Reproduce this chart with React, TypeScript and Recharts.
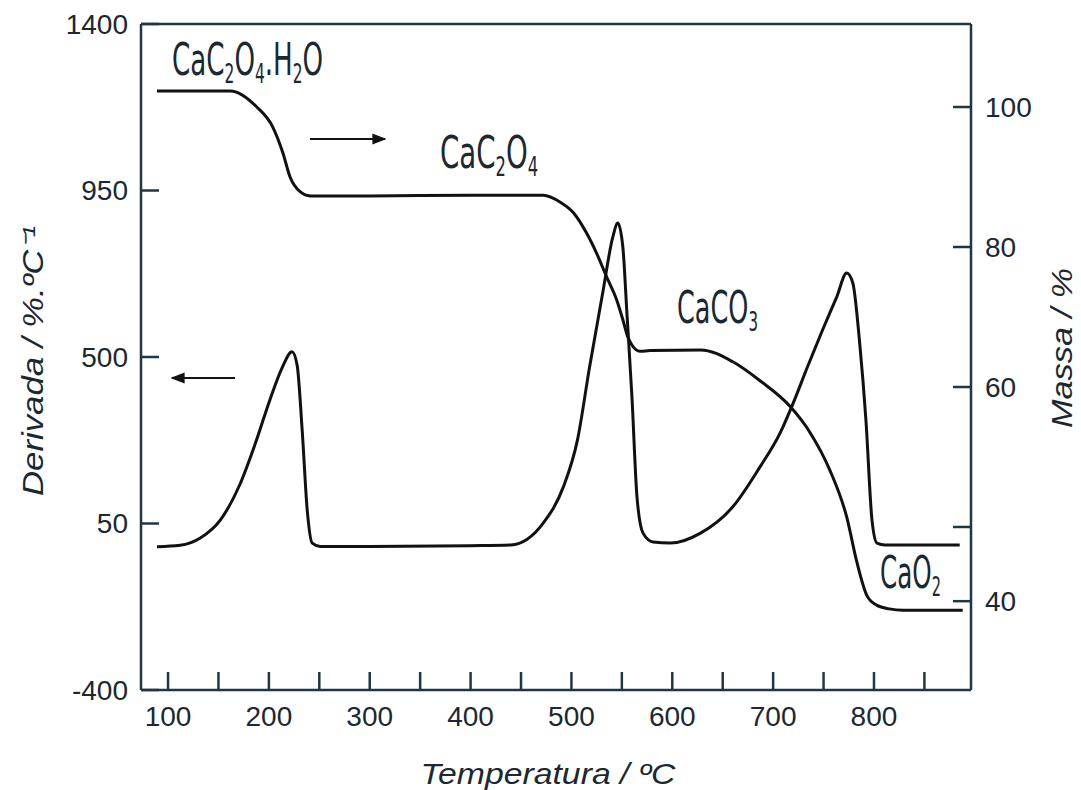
import React from 'react'
import { LineChart, Line, XAxis, YAxis } from 'recharts'

// curva derivada (DTG), eixo esquerdo
const dtgTemp = [89, 112, 132, 152, 171, 186, 201, 213, 223, 228, 233, 238, 243, 251, 300, 400, 440, 472, 492, 506, 518, 531, 541, 546, 551, 555, 560, 565, 571, 581, 598, 628, 660, 687, 707, 720, 734, 749, 763, 773, 779, 786, 792, 798, 803, 811, 885]
const dtgValue = [-13, -9, 11, 60, 154, 262, 384, 470, 514, 478, 303, 87, -3, -12, -12, -10, -8, 51, 149, 276, 473, 673, 824, 862, 797, 619, 392, 122, 24, 0, -3, 24, 95, 203, 295, 376, 473, 573, 662, 727, 700, 532, 330, 60, -3, -8, -8]

// curva de massa (TG), eixo direito
const tgTemp = [89, 162, 188, 204, 214, 221, 231, 241, 300, 400, 472, 489, 502, 515, 525, 535, 545, 551, 556, 560, 568, 578, 628, 660, 687, 717, 737, 756, 773, 783, 793, 803, 815, 829, 888]
const tgMass = [102.3, 102.3, 100, 97.1, 93.4, 90, 87.9, 87.3, 87.3, 87.4, 87.4, 86.4, 84.9, 82.0, 79.1, 75.7, 72.4, 69.6, 67.1, 66.0, 65.1, 65.2, 65.3, 63.6, 60.9, 57.2, 53.4, 48.2, 41.4, 35.0, 30.2, 28.8, 28.3, 28.1, 28.1]

const tempTicks = [100, 150, 200, 250, 300, 350, 400, 450, 500, 550, 600, 650, 700, 750, 800, 850]
const dtgTicks = [-400, 50, 500, 950, 1400]
const massTicks = [29.4, 40, 60, 80, 100]
const massTickLabels = ['40', '', '60', '80', '100']
const topTicks = [1, 2, 3, 4, 5, 6, 7]

// fórmulas: pares [texto, subscrito?]
const formulaHydrate: [string, boolean][] = [['CaC', false], ['2', true], ['O', false], ['4', true], ['.H', false], ['2', true], ['O', false]]
const formulaOxalate: [string, boolean][] = [['CaC', false], ['2', true], ['O', false], ['4', true]]
const formulaCarbonate: [string, boolean][] = [['CaCO', false], ['3', true]]
const formulaOxide: [string, boolean][] = [['CaO', false], ['2', true]]

const dtgData = dtgTemp.map((t, i) => ({ t, v: dtgValue[i] }))
const tgData = tgTemp.map((t, i) => ({ t, m: tgMass[i] }))

const frame = '#1f3743'
const ink = '#1b2830'
const sans = '"Liberation Sans", Arial, sans-serif'
const narrow = '"Liberation Sans Narrow", "DejaVu Sans Condensed", sans-serif'
const tickStyle = { fill: ink, fontSize: 28, fontFamily: sans }

// larguras aproximadas (em em) da fonte estreita
const narrowWidth: Record<string, number> = { C: 0.663, a: 0.511, O: 0.715, H: 0.663, '.': 0.255 }
const DIGIT = 0.511
const BIG = 44
const SMALL = 26

function Formula({ parts, x, y, width }: { parts: [string, boolean][]; x: number; y: number; width: number }) {
  const natural = parts.reduce((sum, [s, sub]) =>
    sum + s.split('').reduce((w, ch) => w + (narrowWidth[ch] ?? DIGIT), 0) * (sub ? SMALL : BIG), 0)
  const sx = width / natural
  let prevSub = false
  return (
    <text transform={`translate(${x} ${y}) scale(${sx} 1)`} x={0} y={0}>
      {parts.map(([s, sub], i) => {
        const dy = sub && !prevSub ? 8 : !sub && prevSub ? -8 : 0
        prevSub = sub
        return (
          <tspan key={i} dy={dy} fontSize={sub ? SMALL : BIG}>{s}</tspan>
        )
      })}
    </text>
  )
}

export default function App() {
  return (
    <div style={{ position: 'absolute', left: 0, top: 0, width: 1081, height: 790, background: '#fff' }}>
      <LineChart width={1081} height={790} margin={{ top: 4, right: 50, bottom: 40, left: 81 }}>
        <XAxis
          xAxisId="bottom" type="number" dataKey="t" domain={[73.2, 896.2]} allowDataOverflow
          ticks={tempTicks} interval={0} height={60}
          tickFormatter={(v: number) => (v % 100 === 0 && v <= 800 ? String(v) : '')}
          tickSize={-18} tickMargin={34} stroke={frame} strokeWidth={2.5} tick={tickStyle}
        />
        <XAxis
          xAxisId="top" orientation="top" type="number" domain={[0, 8]} ticks={topTicks} interval={0}
          height={20} tickFormatter={() => ''} tickSize={-16} stroke={frame} strokeWidth={2.5}
        />
        <YAxis
          yAxisId="left" type="number" domain={[-400, 1400]} allowDataOverflow ticks={dtgTicks} interval={0}
          width={60} tickSize={-18} tickMargin={31} stroke={frame} strokeWidth={2.5} tick={tickStyle}
        />
        <YAxis
          yAxisId="right" orientation="right" type="number" domain={[16.71, 111.86]} allowDataOverflow
          ticks={massTicks} interval={0} width={60} tickSize={-18} tickMargin={32}
          tickFormatter={(_v: number, i: number) => massTickLabels[i]}
          stroke={frame} strokeWidth={2.5} tick={tickStyle}
        />
        <Line xAxisId="bottom" yAxisId="left" data={dtgData} dataKey="v" type="monotone" dot={false}
          stroke="#111" strokeWidth={3} isAnimationActive={false} />
        <Line xAxisId="bottom" yAxisId="right" data={tgData} dataKey="m" type="monotone" dot={false}
          stroke="#111" strokeWidth={3} isAnimationActive={false} />
      </LineChart>

      <svg width={1081} height={790} style={{ position: 'absolute', left: 0, top: 0, pointerEvents: 'none' }}>
        <defs>
          <marker id="head" viewBox="0 0 10 10" refX="9" refY="5" markerWidth="7" markerHeight="7" orient="auto">
            <path d="M0,1 L10,5 L0,9 Z" fill="#111" />
          </marker>
        </defs>
        <g fill={ink} fontFamily={narrow}>
          <Formula parts={formulaHydrate} x={172} y={75} width={148} />
          <Formula parts={formulaOxalate} x={440} y={168} width={97} />
          <Formula parts={formulaCarbonate} x={677} y={323} width={81} />
          <Formula parts={formulaOxide} x={880} y={588} width={60} />
        </g>
        <line x1={310} y1={139} x2={385} y2={139} stroke="#111" strokeWidth={2} markerEnd="url(#head)" />
        <line x1={235} y1={378} x2={172} y2={378} stroke="#111" strokeWidth={2} markerEnd="url(#head)" />
        <g fill={ink} fontFamily={sans} fontStyle="italic" fontSize={29}>
          <text x={548} y={784} textAnchor="middle" textLength={255} lengthAdjust="spacingAndGlyphs">
            Temperatura / ºC
          </text>
          <text x={43} y={361} textAnchor="middle" transform="rotate(-90 43 361)" textLength={270} lengthAdjust="spacingAndGlyphs">
            Derivada / %.ºC⁻¹
          </text>
          <text x={1072} y={348} textAnchor="middle" transform="rotate(-90 1072 348)" textLength={160} lengthAdjust="spacingAndGlyphs">
            Massa / %
          </text>
        </g>
      </svg>
    </div>
  )
}
